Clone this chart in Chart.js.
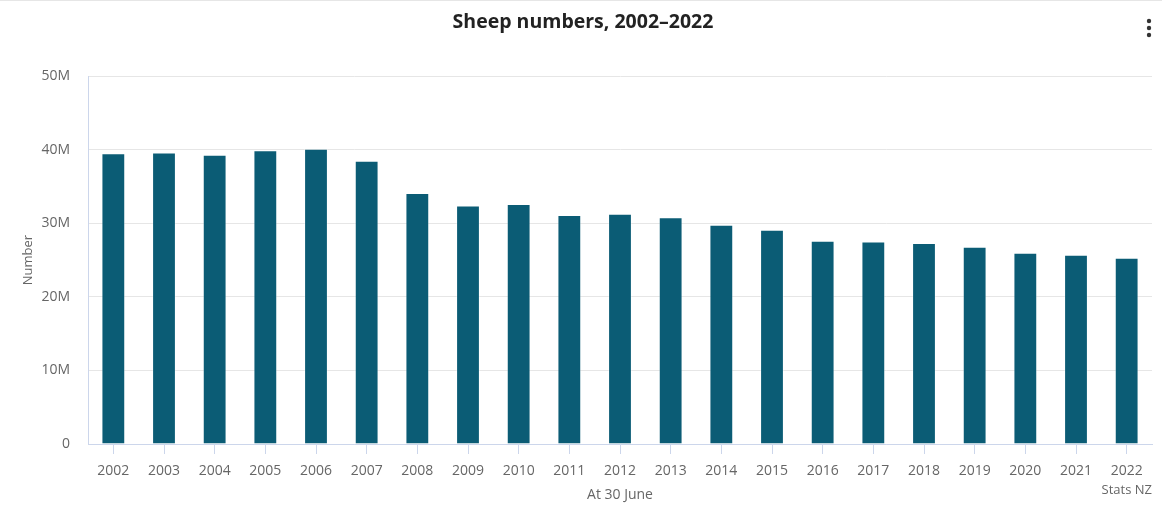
<!DOCTYPE html>
<html>
<head>
<meta charset="utf-8">
<script src="https://cdn.jsdelivr.net/npm/chart.js@4/dist/chart.umd.min.js"></script>
<style>
  html, body { margin: 0; padding: 0; background: #fff; }
  #wrap { position: relative; width: 1162px; height: 513px; border-top: 1px solid #e6e6e6; box-sizing: border-box; }
  canvas { display: block; }
</style>
</head>
<body>
<div id="wrap"><canvas id="c" width="1162" height="512"></canvas></div>
<script>
const titleText = 'Sheep numbers, 2002\u20132022';
const years = ['2002','2003','2004','2005','2006','2007','2008','2009','2010','2011','2012','2013','2014','2015','2016','2017','2018','2019','2020','2021','2022'];
const sheep = [39.5, 39.6, 39.3, 39.9, 40.1, 38.5, 34.1, 32.4, 32.6, 31.1, 31.3, 30.8, 29.8, 29.1, 27.6, 27.5, 27.3, 26.8, 26.0, 25.7, 25.3].map(v => v * 1e6);
const yTicks = [0, 10e6, 20e6, 30e6, 40e6, 50e6];
const yTickLabels = ['0', '10M', '20M', '30M', '40M', '50M'];
const xTitle = 'At 30 June';
const yTitle = 'Number';
const credit = 'Stats NZ';

const FONT = "'Open Sans', sans-serif";

const extras = {
  id: 'extras',
  afterDraw(chart) {
    const ctx = chart.ctx;
    ctx.save();
    ctx.fillStyle = '#222';
    ctx.font = "bold 19.5px " + FONT;
    ctx.textAlign = 'center';
    ctx.textBaseline = 'middle';
    ctx.fillText(titleText, 583, 21);
    ctx.fillStyle = '#666';
    ctx.font = "13px " + FONT;
    ctx.textAlign = 'right';
    ctx.fillText(credit, 1152, 489);
    ctx.fillStyle = '#333';
    [20, 27, 34].forEach(y => { ctx.beginPath(); ctx.arc(1149, y, 2.2, 0, Math.PI * 2); ctx.fill(); });
    ctx.restore();
  }
};

new Chart(document.getElementById('c'), {
  type: 'bar',
  data: {
    labels: years,
    datasets: [{
      data: sheep,
      backgroundColor: '#0b5c75',
      borderColor: 'rgba(255,255,255,0.35)',
      borderWidth: 1,
      barPercentage: 0.47,
      categoryPercentage: 1
    }]
  },
  options: {
    responsive: false,
    animation: false,
    layout: { padding: { top: 75, right: 10, bottom: 0, left: 0 } },
    plugins: { legend: { display: false }, title: { display: false }, tooltip: { enabled: false } },
    scales: {
      x: {
        offset: true,
        grid: { display: true, drawOnChartArea: false, drawTicks: true, offset: false, tickLength: 10, tickColor: '#ccd6eb' },
        border: { display: true, color: '#ccd6eb', width: 1 },
        ticks: { color: '#666', font: { family: FONT, size: 14 }, padding: 9, maxRotation: 0, autoSkip: false },
        title: { display: true, text: xTitle, color: '#666', font: { family: FONT, size: 14 }, padding: { top: 0, bottom: 10 } },
        afterFit(s) { s.height = 69; }
      },
      y: {
        min: 0, max: 50e6,
        afterBuildTicks(s) { s.ticks = yTicks.map(v => ({ value: v })); },
        grid: { color: '#e6e6e6', drawTicks: false },
        border: { display: true, color: '#ccd6eb', width: 1 },
        ticks: {
          color: '#666', font: { family: FONT, size: 14 }, padding: 18,
          callback(v) { const i = yTicks.indexOf(v); return i >= 0 ? yTickLabels[i] : ''; }
        },
        title: { display: true, text: yTitle, color: '#666', font: { family: FONT, size: 13 }, padding: { top: 20, bottom: 0 } },
        afterFit(s) { s.width = 88; }
      }
    }
  },
  plugins: [extras]
});
</script>
</body>
</html>
